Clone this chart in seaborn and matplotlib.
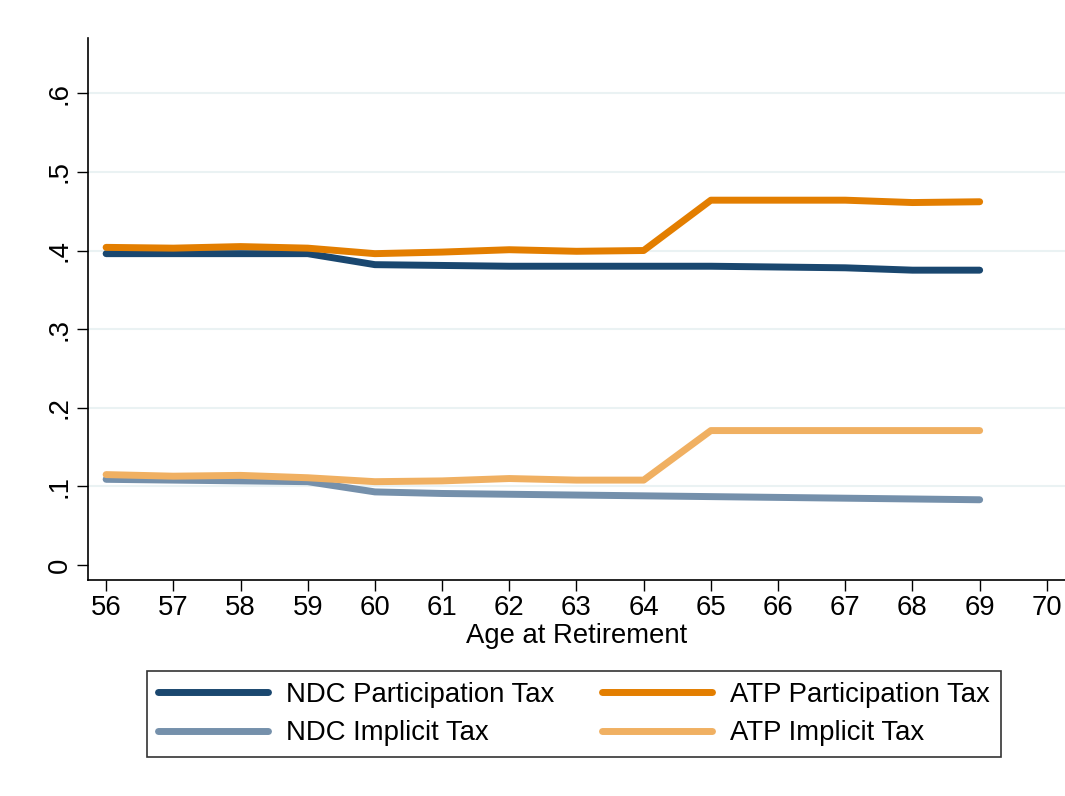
import pandas as pd
import numpy as np
import matplotlib.pyplot as plt
import seaborn as sns

ages = list(range(56, 70))

ndc_participation = [0.396, 0.396, 0.396, 0.396, 0.382, 0.381, 0.380, 0.380, 0.380, 0.380, 0.379, 0.378, 0.375, 0.375]
atp_participation = [0.404, 0.403, 0.405, 0.403, 0.396, 0.398, 0.401, 0.399, 0.400, 0.464, 0.464, 0.464, 0.461, 0.462]
ndc_implicit = [0.109, 0.108, 0.107, 0.106, 0.093, 0.091, 0.090, 0.089, 0.088, 0.087, 0.086, 0.085, 0.084, 0.083]
atp_implicit = [0.115, 0.113, 0.114, 0.111, 0.106, 0.107, 0.110, 0.108, 0.108, 0.171, 0.171, 0.171, 0.171, 0.171]

series_names = ["NDC Participation Tax", "ATP Participation Tax", "NDC Implicit Tax", "ATP Implicit Tax"]
colors = ["#1a476f", "#e37e00", "#7590ab", "#f0b062"]

frames = []
for name, vals in zip(series_names, [ndc_participation, atp_participation, ndc_implicit, atp_implicit]):
    frames.append(pd.DataFrame({"age": ages, "tax": vals, "series": name}))
df = pd.concat(frames, ignore_index=True)

sns.set_style("white")
plt.rcParams['font.family'] = ['Liberation Sans', 'DejaVu Sans']
plt.rcParams['text.color'] = 'black'
plt.rcParams['xtick.color'] = 'black'
plt.rcParams['ytick.color'] = 'black'
fs = 19.8

fig = plt.figure(figsize=(10.65, 7.96), dpi=100)
ax = fig.add_axes([0.0826, 0.2714, 0.9174, 0.6806])

for y in np.arange(0.1, 0.65, 0.1):
    ax.axhline(y, color="#eaf2f3", lw=1.5, zorder=0)

sns.lineplot(data=df, x="age", y="tax", hue="series", hue_order=series_names,
             palette=dict(zip(series_names, colors)), linewidth=5, ax=ax, legend=False)

ax.set_xlim(55.73, 70.27)
ax.set_ylim(-0.019, 0.67)
ax.set_xticks(range(56, 71))
ax.set_xticklabels([str(a) for a in range(56, 71)], fontsize=fs)
ax.set_yticks([0, 0.1, 0.2, 0.3, 0.4, 0.5, 0.6])
ax.set_yticklabels(["0", ".1", ".2", ".3", ".4", ".5", ".6"], fontsize=fs, rotation=90, va="center")
ax.tick_params(axis="both", direction="out", length=8, width=1, color="black", bottom=True, left=True, pad=3)
ax.set_xlabel("Age at Retirement", fontsize=fs, labelpad=1, color="black")
ax.set_ylabel("")
for s in ["top", "right"]:
    ax.spines[s].set_visible(False)
for s in ["left", "bottom"]:
    ax.spines[s].set_color("black")
    ax.spines[s].set_linewidth(1.2)

# row-major order in the legend: matplotlib fills columns first
order = [0, 2, 1, 3]
handles = [plt.Line2D([0], [0], color=colors[i], lw=5) for i in order]
labels = [series_names[i] for i in order]
leg = fig.legend(handles, labels, loc="center", bbox_to_anchor=(0.539, 0.103),
                 ncol=2, fontsize=fs, frameon=True, fancybox=False, edgecolor="black",
                 handlelength=4.0, columnspacing=1.75, handletextpad=0.65, borderpad=0.4,
                 labelspacing=0.45, borderaxespad=0.3)
leg.get_frame().set_linewidth(1.2)

fig.savefig("out.png", dpi=100)
